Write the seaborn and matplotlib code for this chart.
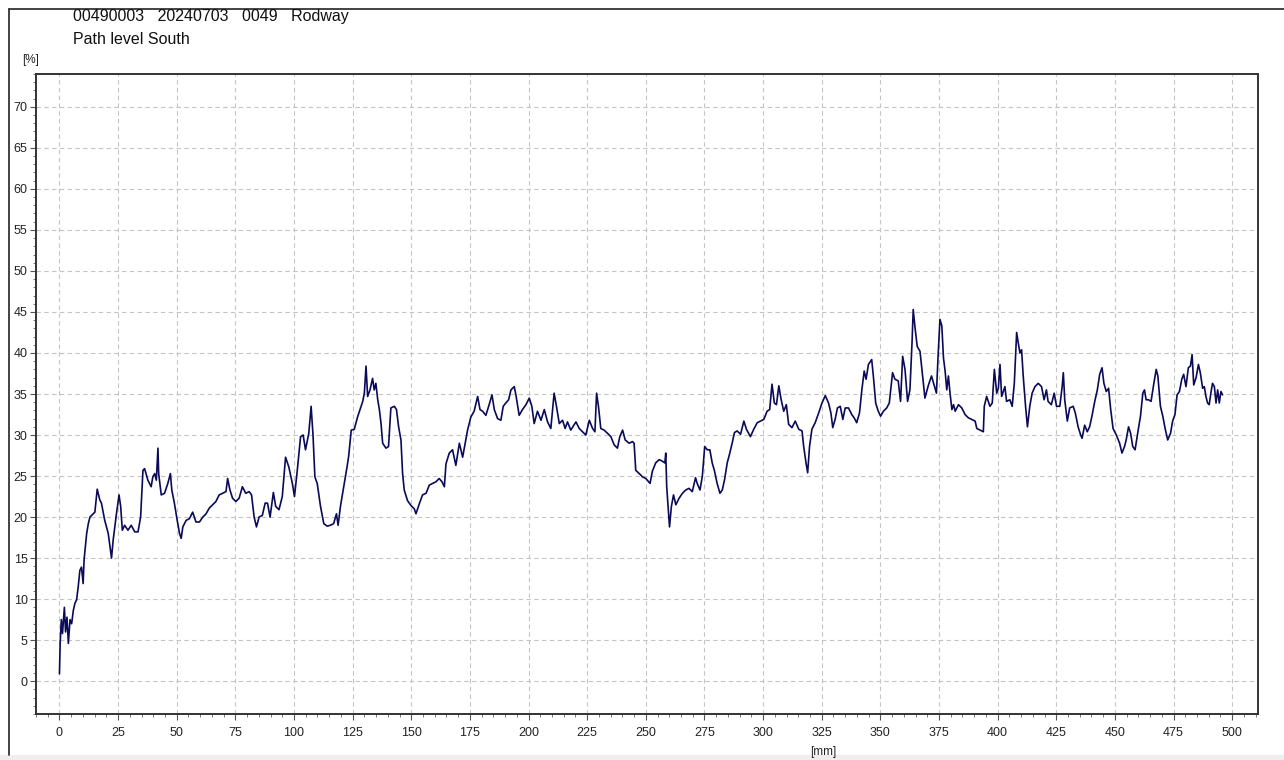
import matplotlib
matplotlib.use("Agg")
import matplotlib.pyplot as plt
import seaborn as sns
import numpy as np
import pandas as pd
from matplotlib.ticker import MultipleLocator
from matplotlib.patches import Rectangle
from matplotlib.lines import Line2D

# header texts
header_line1 = "00490003   20240703   0049   Rodway"
header_line2 = "Path level South"
y_unit = "[%]"
x_unit = "[mm]"

# distance along path [mm]
dist_mm = [
    0.0, 0.3, 0.8, 1.3, 2.1, 2.6, 3.2, 3.8, 4.5, 5.2, 5.9, 6.6, 7.3, 8.0, 8.7, 9.4, 10.1, 10.5,
    11.6, 12.3, 13.0, 14.4, 15.1, 16.1, 17.2, 17.9, 19.3, 20.8, 22.2, 22.9, 24.3, 25.4, 26.1,
    26.8, 27.8, 29.2, 30.6, 32.1, 33.5, 34.6, 35.6, 36.3, 37.7, 39.1, 39.8, 40.6, 41.3, 42.0,
    42.3, 43.4, 44.8, 46.2, 47.3, 47.9, 49.0, 50.2, 51.2, 51.9, 52.6, 54.0, 55.4, 56.8, 58.2,
    59.7, 61.1, 62.5, 63.9, 65.3, 66.7, 68.1, 69.5, 71.0, 71.7, 72.7, 73.8, 75.2, 76.6, 78.0,
    79.4, 80.9, 81.9, 83.0, 84.0, 85.1, 86.5, 87.7, 88.7, 89.8, 91.2, 92.2, 93.6, 95.0, 96.4,
    97.8, 99.3, 100.2, 101.4, 102.8, 103.9, 104.9, 106.3, 107.3, 108.1, 108.9, 109.9, 111.3,
    112.7, 114.1, 115.5, 116.9, 118.1, 118.8, 119.8, 121.2, 122.6, 123.3, 124.4,
    125.7, 127.1, 128.6, 129.3, 130.0, 130.7, 131.4, 132.4, 133.5, 134.2, 134.9, 135.7, 136.4,
    137.1, 137.8, 139.2, 140.3, 141.3, 142.8, 143.7, 144.6, 145.6, 146.3, 147.0, 148.4, 149.9,
    151.3, 152.0, 153.4, 154.8, 156.3, 157.7, 159.1, 160.5, 161.9, 163.1, 164.1, 164.8, 166.2,
    167.6, 169.0, 170.5, 171.9, 173.0, 174.0, 175.4, 176.8, 178.3, 179.3, 180.4, 181.8, 183.2,
    184.4, 185.4, 186.8, 188.2, 189.2, 190.3, 191.5, 192.5, 193.9, 194.6, 196.0, 197.4, 198.9,
    200.3, 201.4, 202.4, 203.8, 205.3, 206.7, 208.1, 209.5, 210.9, 211.9, 213.1, 214.5, 215.6,
    216.6, 218.0, 220.2, 221.6, 223.0, 224.4, 225.9, 227.3, 228.3, 229.0, 229.8, 230.8, 232.2,
    233.7, 235.1, 236.5, 237.9, 238.9, 240.1, 241.2, 242.9, 244.3, 245.0, 245.7, 247.2, 248.6,
    250.0,
    251.8, 252.8, 254.2, 255.7, 257.1, 258.1, 258.5, 258.9, 259.5, 260.1, 260.9, 261.8, 262.8,
    264.2, 265.6, 267.0, 268.4, 269.8, 271.2, 271.9, 273.1, 274.1, 275.1, 276.2, 277.3, 278.3,
    279.3, 280.4, 281.6, 282.6, 283.6, 284.7, 285.8, 286.8, 287.8, 288.9, 290.4, 291.8, 292.9,
    294.6, 296.0, 297.5, 298.9, 300.3, 301.7, 302.8, 303.8, 304.8, 305.7, 306.7, 307.7, 308.8,
    309.9, 310.9, 312.3, 313.7, 315.2, 316.6, 317.3, 318.3, 319.0, 319.8, 320.8, 322.2, 323.7,
    325.1, 326.5, 327.9, 328.9, 329.7, 330.7, 331.7, 332.9, 334.0, 335.0, 336.4, 337.8, 338.8,
    339.9, 341.1, 342.1, 343.1, 343.9, 344.9, 346.3, 347.0, 348.0, 349.1, 350.1, 351.3, 352.7,
    353.8, 354.4, 355.2, 356.2, 357.6, 358.6, 359.5, 360.5, 361.6, 362.6, 363.5, 364.0, 364.7,
    365.7, 366.9, 368.0, 369.0, 370.4, 371.8, 373.2, 373.9, 374.6, 375.4,
    376.2, 376.9, 377.6, 378.3, 379.0, 379.7, 380.5, 381.2, 381.9, 383.3, 384.7, 386.1, 387.5,
    389.0, 390.4, 391.1, 392.5, 393.9, 394.3, 395.3, 396.7, 397.7, 398.6, 399.6, 400.3, 401.0,
    401.7, 403.1, 403.8, 405.2, 406.2, 407.1, 408.1, 408.8, 409.5, 410.2, 410.9, 411.9, 412.7,
    413.7, 414.7, 415.9, 417.3, 418.7, 419.8, 420.8, 421.5, 422.9, 424.1, 425.1, 426.5, 427.5,
    428.0, 428.6, 429.7, 430.7, 432.2, 433.1, 434.3, 435.4, 436.0, 437.1, 438.2, 439.2, 440.2,
    441.4, 442.5, 443.5, 444.5, 445.3, 446.3, 447.3, 448.2, 449.2, 450.6, 452.0, 453.0, 454.1,
    454.8, 455.8, 456.7, 457.6, 458.6, 459.8, 460.9, 461.9, 462.6, 463.3, 464.3, 465.4, 466.6,
    467.6, 468.3, 469.4, 470.4, 471.4, 472.5, 473.7, 474.6, 475.6, 476.5, 477.5, 478.5, 479.3,
    480.3, 481.3, 482.2, 482.9, 483.6, 484.6, 485.6, 486.4, 487.4, 488.1, 488.8, 489.5, 490.2,
    490.9, 491.6, 492.4, 493.1, 493.8, 494.5, 495.2, 495.9,
]

# path level [%]
level_pct = [
    0.9, 4.6, 7.5, 5.8, 9.0, 6.0, 7.8, 4.6, 7.5, 7.0, 8.6, 9.5, 9.9, 11.5, 13.5, 13.9, 11.9, 14.8,
    18.0, 19.2, 20.0, 20.4, 20.6, 23.4, 22.1, 21.7, 19.6, 18.0, 15.0, 17.2, 20.4, 22.7, 21.3,
    18.4, 19.0, 18.4, 19.0, 18.2, 18.2, 20.0, 25.7, 25.9, 24.5, 23.7, 24.9, 25.3, 24.5, 28.4,
    25.3, 22.7, 22.9, 24.1, 25.3, 23.3, 21.7, 19.6, 18.0, 17.4, 18.8, 19.6, 19.8, 20.6, 19.4,
    19.4, 20.0, 20.4, 21.1, 21.5, 21.9, 22.7, 22.9, 23.1, 24.7, 23.3, 22.3, 21.9, 22.3, 23.7,
    22.9, 23.1, 22.7, 20.0, 18.8, 20.0, 20.2, 21.7, 21.7, 20.0, 23.0, 21.3, 20.9, 22.5, 27.3,
    26.1, 24.1, 22.5, 25.7, 29.8, 30.0, 28.2, 30.2, 33.5, 30.0, 24.9, 24.1, 21.3,
    19.2, 18.9, 19.0, 19.2, 20.4, 19.0, 21.3, 23.7, 26.1, 27.4, 30.6,
    30.7, 32.2, 33.5, 34.1, 35.1, 38.4, 34.7, 35.5, 36.9, 35.5, 36.3, 34.3, 33.1,
    31.4, 29.0, 28.4, 28.6, 33.3, 33.5, 33.1, 31.0, 29.4, 25.3, 23.3, 22.0, 21.4,
    21.0, 20.4, 21.6, 22.7, 22.9, 23.9, 24.1, 24.3, 24.7, 24.3, 23.7, 26.5, 27.8,
    28.2, 26.3, 29.0, 27.3, 29.0, 30.6, 32.2, 32.9, 34.7, 33.1, 32.9, 32.4, 33.7,
    34.9, 33.1, 32.0, 31.8, 33.5, 33.9, 34.3, 35.5, 35.9, 34.9, 32.4, 33.1, 33.7,
    34.5, 33.5, 31.4, 32.9, 31.8, 33.1, 31.6, 30.8, 35.1, 33.5, 31.4, 31.8, 30.8,
    31.6, 30.6, 31.6, 30.8, 30.4, 30.0, 31.8, 30.8, 30.4, 35.1, 33.5, 30.8, 30.6,
    30.2, 29.8, 28.8, 28.4, 29.8, 30.6, 29.4, 29.0, 29.2, 29.0, 25.7, 25.3, 24.9,
    24.7,
    24.1, 25.6, 26.6, 27.0, 26.8, 26.6, 27.8, 23.7, 21.3, 18.8, 21.3, 22.7, 21.5,
    22.3, 22.9, 23.3, 23.5, 23.1, 24.8, 24.1, 23.3, 25.0, 28.6, 28.2, 28.2, 26.6,
    25.6, 24.1, 22.9, 23.3, 24.6, 26.6, 27.8, 29.0, 30.3, 30.5, 30.1, 31.7, 30.7,
    29.8, 30.7, 31.5, 31.7, 31.9, 32.9, 33.1, 36.2, 33.9, 33.7, 36.0, 34.3, 32.9,
    33.7, 31.3, 30.9, 31.7, 30.7, 30.5, 28.6, 26.6, 25.4, 28.6, 30.7, 31.5, 32.7,
    33.9, 34.8, 33.9, 32.7, 30.9, 31.9, 33.3, 33.5, 31.9, 33.3, 33.3, 32.5, 32.1,
    31.5, 32.7, 35.5, 37.8, 36.8, 38.6, 39.2, 37.2, 33.9, 32.9, 32.3, 32.9, 33.3,
    33.9, 35.5, 37.6, 36.8, 36.6, 34.1, 39.6, 38.0, 34.1, 35.5, 41.3, 45.3, 43.3,
    40.8, 40.2, 37.2, 34.5, 36.0, 37.2, 35.8, 35.1, 39.6, 44.1,
    43.3, 39.4, 37.8, 35.5, 37.2, 35.1, 33.1, 33.7, 32.9, 33.7, 33.3, 32.5, 32.1,
    31.9, 31.7, 30.8, 30.6, 30.4, 33.5, 34.7, 33.5, 33.9, 38.0, 35.1, 35.7, 38.6,
    34.7, 35.9, 34.1, 34.3, 33.5, 36.3, 42.5, 41.2, 40.0, 40.4, 37.2, 33.5, 31.0,
    33.5, 35.1, 35.9, 36.3, 35.9, 34.3, 35.5, 34.1, 33.7, 35.1, 33.5, 33.5, 35.9,
    37.6, 34.3, 31.7, 33.3, 33.5, 32.7, 31.0, 30.0, 29.6, 31.2, 30.4, 31.0, 32.3,
    34.1, 35.5, 37.4, 38.2, 36.3, 35.3, 35.7, 33.1, 30.8, 30.0, 29.0, 27.8, 28.6,
    29.4, 31.0, 30.2, 28.6, 28.2, 30.4, 32.3, 35.1, 35.5, 34.3, 34.3, 34.1, 36.3,
    38.0, 37.2, 33.5, 32.3, 30.8, 29.4, 30.2, 31.7, 32.5, 34.9, 35.3, 36.8, 37.4,
    35.9, 38.2, 38.4, 39.8, 36.1, 37.0, 38.6, 37.6, 35.7, 35.9, 34.7, 33.9, 33.7,
    35.1, 36.3, 35.9, 33.9, 35.5, 33.9, 35.3, 34.9,
]

df = pd.DataFrame({"mm": dist_mm, "pct": level_pct})

sns.set_style("white")
plt.rcParams["font.family"] = ["Liberation Sans", "DejaVu Sans"]

W, H = 1284, 760
fig = plt.figure(figsize=(W / 100, H / 100), dpi=100)
ax = fig.add_axes([36 / W, 1 - 714 / H, (1258 - 36) / W, (714 - 74) / H])

sns.lineplot(data=df, x="mm", y="pct", ax=ax, color="#0a0a58", linewidth=1.2,
             estimator=None, sort=False)

ax.set_xlim(-10, 511)
ax.set_ylim(-4, 74)
ax.xaxis.set_major_locator(MultipleLocator(25))
ax.xaxis.set_minor_locator(MultipleLocator(5))
ax.yaxis.set_major_locator(MultipleLocator(5))
ax.yaxis.set_minor_locator(MultipleLocator(1))
ax.set_xlabel("")
ax.set_ylabel("")

ax.grid(True, which="major", color="#c4c4c4", linestyle=(0, (4, 3)), linewidth=0.8)
ax.set_axisbelow(True)
for s in ax.spines.values():
    s.set_color("#333333")
    s.set_linewidth(1.4)

ax.tick_params(axis="both", which="major", direction="out", length=4, width=0.8,
               color="#555555", labelsize=9, labelcolor="#222222", bottom=True, left=True)
ax.tick_params(axis="both", which="minor", direction="out", length=2.2, width=0.7,
               color="#777777", bottom=True, left=True)
ax.tick_params(axis="x", pad=5)
ax.tick_params(axis="y", pad=2)

# header and unit texts
fig.text(73 / W, 1 - 16 / H, header_line1, fontsize=11.5, va="center", ha="left", color="#111111")
fig.text(73 / W, 1 - 39 / H, header_line2, fontsize=11.5, va="center", ha="left", color="#111111")
fig.text(22 / W, 1 - 60 / H, y_unit, fontsize=8.5, va="center", ha="left", color="#222222")
fig.text(823 / W, 1 - 752 / H, x_unit, fontsize=8.5, va="center", ha="center", color="#222222")

# outer frame of the print window
fig.add_artist(Line2D([9 / W, 1], [1 - 9 / H, 1 - 9 / H], transform=fig.transFigure,
                      color="#222222", linewidth=1.2))
fig.add_artist(Line2D([9 / W, 9 / W], [1 - 9 / H, 1 - 755 / H], transform=fig.transFigure,
                      color="#222222", linewidth=1.2))
fig.add_artist(Rectangle((0, 0), 1, 5 / H, transform=fig.transFigure,
                         facecolor="#eeeeee", edgecolor="none"))

fig.savefig("out.png", dpi=100)
